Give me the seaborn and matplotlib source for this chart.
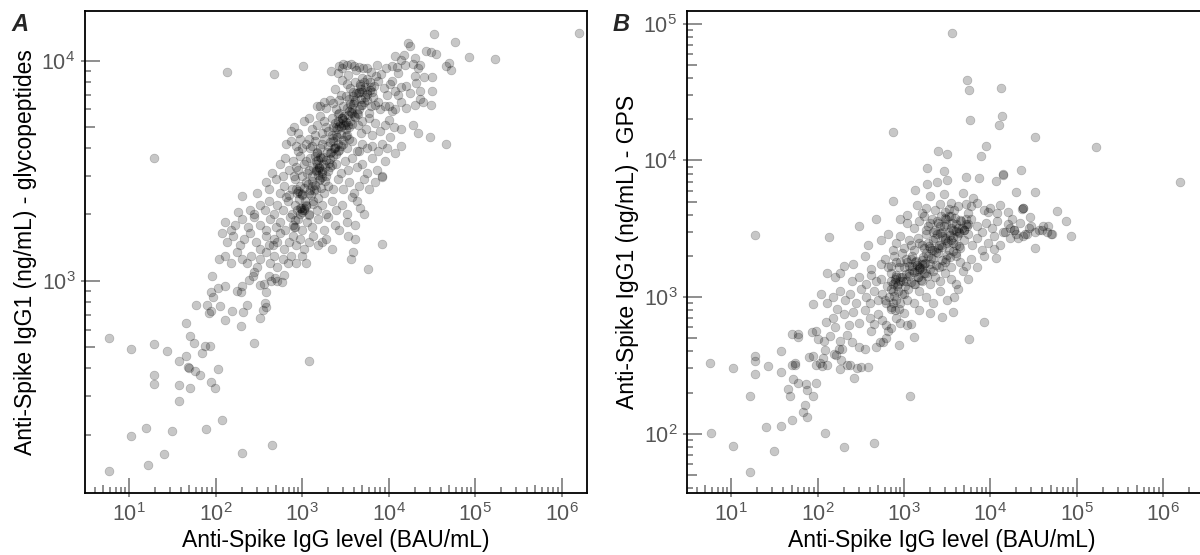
import matplotlib
matplotlib.use('Agg')
import matplotlib.pyplot as plt
import seaborn as sns
import pandas as pd
from matplotlib.ticker import LogLocator, NullFormatter, LogFormatterMathtext

# Panel A: anti-spike IgG level (BAU/mL) vs anti-spike IgG1 from glycopeptides (ng/mL)
igg_a = [
    1.6e6, 3.4e4, 5.9e4, 1.7e4, 1.75e4, 2.7e4, 3.1e4, 3.5e4, 1.5e4, 1.4e4, 1.72e5, 8.6e4, 2.0e4, 1.2e4,
    137, 480, 1020, 2150, 2700, 3000, 3300, 3700, 4000, 4500, 5100, 5600, 7300, 9300, 11000, 12500, 15500,
    19000, 22000, 23000, 46000, 50000, 53000, 2600, 3400, 6200, 8200, 13000, 20000, 26000, 32000, 2900, 4200,
    2900, 3300, 4100, 4700, 5300, 6100, 6800, 7600, 8800, 10500, 12000, 14000, 16000, 21000, 23000, 32000,
    2800, 3900, 4400, 5700, 6500, 9500, 13000, 17500, 2400, 5000, 7100, 3600, 4900, 6300, 11000,
    1800, 2100, 1500, 1600, 1900, 2300, 2700, 3000, 3500, 4000, 4500, 5000, 5600, 6200, 7000, 8000, 9000,
    10000, 12000, 14000, 16000, 20000, 23000, 31000, 3500, 4300, 6000, 11000, 25000, 5300, 2500, 3200, 3800,
    4800, 6600, 7600,
    740, 800, 900, 1050, 1200, 1300, 1500, 1600, 1800, 2000, 2200, 2400, 2600, 2800, 3000, 3200, 3600, 4000,
    4400, 5000, 5500, 6000, 7000, 8000, 9000, 10000, 11500, 14000, 19000, 22000, 30000, 2500, 2200, 1700,
    3300, 4800, 6500, 10500, 2700, 3800, 2600, 2900, 3100, 2500, 2750, 2300, 3400, 1400, 1900,
    650, 750, 850, 950, 1100, 1250, 1400, 1600, 1800, 2000, 2300, 2600, 3000, 3300, 3800, 4300, 5000, 5600,
    6500, 7500, 8500, 9500, 14000, 46000, 12000, 2100, 1500, 900, 1200, 1700, 2800, 3500, 4600, 1000, 2400, 1300,
    450, 560, 640, 700, 780, 850, 950, 1050, 1150, 1250, 1350, 1450, 1550, 1650, 1750, 1900, 2100, 2300, 2500,
    2800, 3100, 3400, 3800, 4300, 5000, 5600, 6400, 7300, 8500, 9000, 1500, 600, 1000, 1300, 1200, 1480, 1520,
    1560, 1600, 1450, 1400, 1700, 800, 900, 1100,
    300, 380, 420, 500, 560, 620, 700, 760, 820, 880, 950, 1000, 1100, 1200, 1300, 1450, 1600, 1800, 2000,
    2300, 2600, 3000, 3500, 4000, 4600, 5200, 6000, 7000, 8300, 200, 850, 900, 950, 1050, 650,
    180, 250, 280, 330, 370, 420, 480, 520, 600, 680, 760, 820, 880, 950, 1000, 1050, 1100, 1200, 1350, 1500,
    1700, 1900, 2200, 2500, 2900, 3300, 4300, 4700, 5200, 3800, 1000, 1050, 980,
    130, 150, 170, 200, 240, 280, 330, 380, 430, 500, 560, 640, 720, 780, 840, 900, 1000, 1150, 1300, 1550,
    1800, 2000, 2400, 2700, 3300, 4100, 800,
    120, 135, 160, 190, 215, 250, 290, 330, 380, 420, 480, 550, 620, 700, 780, 860, 950, 1050, 1200, 1350,
    1550, 1700, 1900, 2200, 3400, 4100, 8500, 460, 520,
    110, 130, 150, 175, 200, 230, 260, 300, 330, 380, 430, 480, 520, 600, 680, 750, 850, 1000, 1100, 3900,
    3700, 5800,
    90, 128, 89, 94, 108, 179, 195, 243, 270, 330, 365, 490, 620, 200, 280, 410, 440, 520, 580, 380,
    60, 79, 89, 85, 112, 129, 156, 198, 210, 233, 324, 350, 371, 380,
    19.2, 5.8, 10.5, 19.4, 27.4, 46, 51, 56, 75, 86, 69, 38, 45, 48, 50, 58, 66, 108, 19.3, 19.3,
    38, 51, 89, 98, 38, 120, 77, 31.7, 15.8, 10.5, 25.5, 200, 452, 16.8, 5.9, 1210, 277,
    # dense ridge
    1100, 1270, 1380, 1560, 1690, 1830, 2040, 2180, 2420, 2570, 2830, 2980, 3240, 3390, 3650, 3880, 4150,
    4560, 4770, 5260, 5580,
    920, 990, 1180, 1290, 1470, 1580, 1760, 1930, 2120, 2280, 2530, 2690, 2920, 3060, 3350, 3580, 3920,
    4180, 4630,
    1210, 1330, 1520, 1640, 1820, 1990, 2230, 2460, 2680, 2940, 3210, 3460, 3830, 4090, 4420, 4850, 5150,
    5650, 6050,
    820, 960, 1090, 1240, 1420, 1530, 1720, 1880, 2090, 2370, 2590,
]
glyco_a = [
    13400, 13200, 12100, 12000, 11700, 11000, 10900, 10700, 10600, 10100, 10200, 10400, 10300, 10500,
    8880, 8730, 9460, 9000, 9500, 9700, 9600, 9650, 9500, 9400, 9300, 9300, 9600, 9300, 9500, 9400, 9600,
    9700, 9300, 9600, 9500, 9800, 9100, 8800, 8600, 8900, 8700, 8800, 8500, 8400, 8400, 9300, 9100,
    8200, 7800, 8000, 7800, 7600, 8000, 7700, 8100, 7500, 7800, 7300, 7600, 7700, 7900, 7300, 7300,
    7000, 7200, 7100, 7300, 7200, 7000, 7000, 7100, 7400, 8300, 8500, 7500, 7200, 7600, 8100,
    6500, 6600, 6200, 6250, 6100, 6400, 6600, 6200, 6700, 6500, 6000, 6300, 6600, 6200, 6300, 6000, 6200,
    6200, 6000, 6500, 6100, 6300, 6700, 6300, 5900, 5800, 5800, 5900, 6500, 6800, 6000, 6900, 6100,
    6700, 6800, 6500,
    4800, 5000, 4700, 5300, 5500, 4900, 5100, 5600, 5300, 4800, 5500, 5200, 5700, 5000, 5400, 4900, 5300, 5600,
    5100, 5300, 4900, 5500, 5200, 4800, 5100, 5400, 5000, 4900, 5100, 4700, 4500, 4600, 4600, 4700,
    4600, 4700, 4600, 4500, 5800, 5800, 5300, 5500, 5100, 5000, 5200, 5000, 5100, 4600, 5000,
    4200, 4300, 4100, 4400, 4200, 4000, 4300, 4000, 4400, 4100, 4300, 3900, 4200, 4000, 4300, 3900, 4200, 4000,
    4100, 3900, 4200, 4000, 4100, 4200, 3800, 3800, 3850, 3900, 4400, 4200, 4100, 4400, 3900, 4000, 4000, 4100,
    3100, 3400, 3600, 3200, 3500, 3300, 3700, 3400, 3100, 3600, 3300, 3500, 3200, 3600, 3400, 3000, 3300, 3700, 3400,
    3100, 3500, 3200, 3600, 3300, 3400, 3100, 3600, 3200, 3000, 3500, 3800, 3000, 3000, 3000, 3200, 3400, 3550,
    3300, 3650, 3200, 3700, 3100, 3000, 3200, 3500,
    2500, 2800, 2600, 2900, 2500, 2700, 2450, 2600, 2900, 2500, 2700, 2450, 2800, 2500, 2700, 2600, 2900, 2500, 2700,
    2600, 2900, 2600, 2800, 2500, 2700, 2900, 2600, 2800, 2950, 2430, 2600, 2550, 2500, 2650, 2400,
    2050, 2100, 2000, 2200, 2100, 2300, 2000, 2200, 2100, 2300, 2000, 2200, 2100, 2000, 2100, 2150, 2200, 2000, 2300, 2100,
    2200, 2000, 2300, 2100, 2200, 2000, 2300, 2150, 2000, 2400, 2050, 2100, 2150,
    1850, 1700, 1800, 1900, 1750, 1950, 1800, 1700, 1900, 1750, 1850, 1700, 1950, 1800, 1750, 1900, 1700, 1850, 1750, 1900,
    1700, 1950, 1800, 1700, 1850, 1800, 1750,
    1650, 1500, 1600, 1450, 1550, 1650, 1500, 1400, 1600, 1450, 1550, 1650, 1400, 1500, 1600, 1450, 1550, 1400, 1500, 1600,
    1450, 1500, 1550, 1400, 1600, 1550, 1470, 1450, 1500,
    1250, 1300, 1200, 1350, 1250, 1200, 1300, 1150, 1250, 1350, 1200, 1300, 1150, 1250, 1200, 1300, 1200, 1300, 1200, 1350,
    1250, 1130,
    1050, 942, 885, 848, 930, 897, 885, 1010, 1050, 960, 970, 1030, 1060, 950, 1100, 1050, 1000, 1000, 990, 890,
    775, 773, 728, 714, 764, 664, 732, 621, 720, 773, 677, 739, 791, 756,
    3600, 548, 489, 517, 480, 645, 560, 520, 505, 505, 470, 434, 456, 407, 400, 390, 372, 398, 373, 341,
    337, 327, 345, 324, 283, 232, 213, 208, 215, 198, 163, 165, 180, 145, 136, 434, 521,
    # dense ridge
    2180, 2460, 2570, 2860, 2950, 3270, 3440, 3850, 4050, 4480, 4620, 5080, 5250, 5690, 5830, 6380, 6620,
    7180, 7420, 7960, 8250,
    2340, 2470, 2740, 2850, 3150, 3240, 3660, 3860, 4260, 4430, 4870, 5040, 5480, 5620, 6080, 6320, 6890,
    7110, 7680,
    1980, 2230, 2370, 2640, 2840, 3150, 3340, 3760, 3920, 4360, 4540, 4970, 5130, 5570, 5720, 6260, 6510,
    7060, 7330,
    1880, 2130, 2310, 2590, 2720, 3020, 3150, 3520, 3580, 4020, 4180,
]

# Panel B: anti-spike IgG level (BAU/mL) vs anti-spike IgG1 from GPS (ng/mL)
igg_b = [
    3650, 5430, 5700, 13400, 13800, 12800, 5800, 750, 33000, 168000, 9000, 2480, 3130, 7800, 1.57e6,
    23000, 14000, 14200, 11700, 7500, 5200, 2900, 1870, 3130, 2400, 1870, 1330, 740, 19,
    20000, 33000, 59000, 76000, 86000, 51000, 33000, 23500, 24000, 29000, 11700, 11000, 8500, 5700, 1190,
    41000, 46000, 37000, 27000, 17000, 15000, 19000, 21000,
    1100, 1400, 1800, 2300, 2600, 3000, 3500, 3800, 4200, 5200, 6000, 7000, 8500, 10000, 13000, 16000,
    24000, 12000, 6400, 4800, 2000, 1600, 2900, 3300, 5500, 9500,
    300, 475, 900, 1100, 1300, 1500, 1700, 1900, 2100, 2300, 2500, 2700, 2900, 3100, 3300, 3600, 3900, 4200,
    4600, 5000, 5500, 6000, 7000, 8000, 9000, 10500, 12000, 14000, 16000, 19000, 22000, 28000, 33000, 40000,
    47000, 52000, 25000, 30000, 18000, 2600, 3300, 2000, 2800, 3500, 4000, 2400, 3000, 4400, 3700, 1800,
    2200, 5200,
    136, 380, 550, 650, 750, 820, 900, 1000, 1150, 1300, 1450, 1600, 1800, 2000, 2200, 2400, 2700, 3000,
    3300, 3700, 4100, 4500, 5000, 5500, 6200, 7000, 8000, 9500, 11000, 13000, 17000, 20000, 24000, 2500,
    2800, 3200, 1700, 1900, 2100, 2300, 3500, 4000, 1500, 1200,
    200, 260, 350, 420, 600, 700, 760, 820, 880, 950, 1050, 1150, 1250, 1350, 1500, 1650, 1800, 2000, 2200,
    2500, 2800, 3100, 3500, 4000, 4500, 5200, 6000, 7000, 8500, 1400, 1600, 1700, 650, 550, 900, 1000,
    1100, 1200,
    130, 160, 180, 250, 300, 360, 420, 480, 550, 630, 700, 780, 850, 950, 1050, 1150, 1300, 1450, 1600,
    1800, 2000, 2300, 2600, 3000, 3500, 4000, 4800, 5500, 750, 800, 900, 700, 820,
    110, 130, 150, 180, 210, 240, 280, 320, 360, 400, 450, 500, 560, 620, 680, 750, 820, 900, 1000, 1100,
    1300, 1500, 1800, 2200, 2600, 3200, 3800, 4200, 700, 780, 880, 750, 600,
    88, 125, 150, 170, 200, 230, 260, 300, 350, 400, 450, 500, 560, 620, 700, 800, 900, 1000, 1200, 1500,
    2000, 2800, 3700, 1100, 650,
    50, 59, 59, 86, 95, 101, 120, 140, 160, 180, 220, 300, 350, 420, 475, 530, 570, 620, 885, 1300,
    122, 176, 190, 38, 250, 700,
    5.7, 5.8, 10.5, 10.4, 16.6, 16.3, 19, 19, 19, 27, 25, 31.6, 38, 38, 45, 48, 50, 55, 52, 55,
    50, 59, 73, 75, 71, 68, 75, 79, 89, 89, 95, 97, 106, 112, 117, 130, 123, 155, 163, 180,
    187, 200, 265, 290, 220, 237, 320, 380, 450,
    # dense core
    700, 780, 830, 910, 980, 1060, 1140, 1230, 1320, 1410, 1520, 1640, 1760, 1890, 2050, 2210, 2380, 2560,
    2760, 2980, 3210, 3460, 3720, 4010, 4320, 4650, 5010, 5400,
    760, 850, 940, 1030, 1120, 1210, 1330, 1460, 1580, 1710, 1850, 2010, 2170, 2340, 2530, 2740, 2960,
    3190, 3440, 3710, 4000, 4310,
    1250, 1380, 1490, 1620, 1950, 2650, 3050, 3550, 4450, 5200,
]
gps_b = [
    85000, 38500, 33000, 33700, 21300, 18300, 19900, 16200, 14900, 12600, 12700, 11800, 11200, 10700, 6950,
    8500, 8000, 7800, 7060, 7400, 7540, 8300, 8870, 7240, 6900, 6680, 6060, 5010, 2830,
    5910, 5910, 4290, 3580, 2800, 2870, 2280, 4390, 4500, 3870, 1920, 2240, 659, 489, 188,
    3300, 3000, 3100, 2900, 3200, 3000, 3100, 2700,
    4000, 4700, 4500, 4300, 4800, 4200, 4900, 4300, 4600, 4800, 4600, 4900, 4300, 4500, 4700, 4200,
    4500, 4100, 5300, 5800, 5500, 4100, 5700, 4400, 4100, 4200,
    3330, 3740, 3700, 3500, 3200, 3600, 3900, 3300, 3700, 3100, 3500, 3900, 3300, 3700, 3000, 3500, 3800, 3200,
    3600, 3100, 3400, 3700, 3300, 3000, 3500, 3200, 3600, 3000, 3400, 3100, 3500, 3200, 3000, 3100,
    3300, 2900, 2900, 3300, 3700, 3300, 3900, 3500, 3000, 3200, 3400, 3600, 3800, 3000, 3100, 3100,
    3000, 3700,
    2760, 2400, 2600, 2900, 2200, 2500, 2800, 2300, 2600, 2200, 2700, 2400, 2900, 2300, 2600, 2900, 2400, 2700,
    2200, 2500, 2800, 2300, 2600, 2900, 2400, 2700, 2200, 2500, 2800, 2400, 2700, 2900, 2800, 2300,
    2800, 2500, 2300, 2500, 2200, 2700, 2600, 2400, 2500, 2400,
    1700, 1750, 2000, 1600, 1900, 1700, 2000, 1800, 1650, 2100, 1900, 1700, 2000, 1800, 1650, 1950, 2100, 1750, 1900,
    2100, 1700, 1900, 1650, 2000, 1800, 1700, 1900, 1650, 2000, 1550, 1600, 1750, 1650, 1750, 1800, 1650,
    1800, 1900,
    1500, 1400, 1500, 1300, 1400, 1250, 1450, 1300, 1350, 1200, 1500, 1350, 1250, 1400, 1300, 1500, 1250, 1400, 1300,
    1500, 1250, 1400, 1300, 1500, 1350, 1250, 1550, 1350, 1250, 1400, 1300, 1300, 1450,
    1050, 900, 1000, 1100, 950, 1050, 900, 1150, 1000, 900, 1100, 950, 1050, 900, 1000, 1100, 950, 900, 1050, 950,
    900, 1100, 1000, 900, 1100, 950, 1000, 1150, 850, 800, 820, 900, 950,
    888, 661, 700, 820, 750, 620, 780, 650, 800, 700, 640, 750, 680, 620, 820, 700, 650, 760, 640, 800,
    760, 720, 780, 620, 560,
    537, 540, 510, 555, 561, 497, 480, 520, 600, 480, 530, 430, 417, 560, 430, 465, 470, 500, 442, 510,
    411, 417, 415, 404, 470, 590,
    328, 101, 305, 81, 52, 188, 369, 342, 272, 313, 111, 75, 114, 284, 211, 189, 320, 318, 250, 330,
    125, 236, 230, 208, 161, 144, 133, 365, 188, 369, 318, 236, 328, 313, 355, 316, 101, 380, 378, 295,
    344, 80, 254, 305, 320, 320, 310, 310, 86,
    # dense core
    1150, 1280, 1210, 1390, 1320, 1480, 1420, 1590, 1530, 1710, 1640, 1860, 1780, 2010, 1940, 2200, 2120, 2410,
    2330, 2620, 2560, 2830, 2750, 3030, 2940, 3190, 3080, 3320,
    1020, 1110, 1060, 1200, 1150, 1290, 1240, 1390, 1330, 1490, 1430, 1600, 1540, 1730, 1660, 1870, 1800,
    2020, 1950, 2180, 2110, 2350,
    1700, 1850, 1600, 1750, 2350, 2950, 3400, 3900, 3650, 3450,
]

assert len(igg_a) == len(glyco_a), (len(igg_a), len(glyco_a))
assert len(igg_b) == len(gps_b), (len(igg_b), len(gps_b))

df_a = pd.DataFrame({'igg': igg_a, 'igg1': glyco_a})
df_b = pd.DataFrame({'igg': igg_b, 'igg1': gps_b})

sns.set_style('ticks')
plt.rcParams['font.family'] = ['Liberation Sans', 'DejaVu Sans']
plt.rcParams['mathtext.fontset'] = 'custom'
plt.rcParams['mathtext.rm'] = 'Liberation Sans'
plt.rcParams['mathtext.it'] = 'Liberation Sans:italic'
plt.rcParams['mathtext.bf'] = 'Liberation Sans:bold'

TICK_GREY = '#707070'
LABEL_GREY = '#555555'
W, H = 1200, 555


def style_axes(ax, xlim, ylim):
    ax.set_xscale('log')
    ax.set_yscale('log')
    ax.set_xlim(*xlim)
    ax.set_ylim(*ylim)
    for axis in (ax.xaxis, ax.yaxis):
        axis.set_major_locator(LogLocator(base=10, numticks=20))
        axis.set_major_formatter(LogFormatterMathtext())
        axis.set_minor_locator(LogLocator(base=10, subs=(2, 3, 4, 6, 7, 8, 9), numticks=20))
        axis.set_minor_formatter(NullFormatter())
    ax.tick_params(which='major', direction='in', length=11, width=1.1, color=TICK_GREY,
                   labelcolor=LABEL_GREY, labelsize=15.5, pad=7,
                   bottom=True, left=True, top=False, right=False)
    ax.tick_params(which='minor', direction='in', length=4, width=1.1, color=TICK_GREY,
                   bottom=True, left=True, top=False, right=False)
    for sp in ax.spines.values():
        sp.set_visible(True)
        sp.set_color('black')
        sp.set_linewidth(1.3)

    # longer ticks at 5 x 10^n and the short outside stubs at each decade
    sx = ax.secondary_xaxis('bottom')
    sy = ax.secondary_yaxis('left')
    for sec, axis in ((sx, sx.xaxis), (sy, sy.yaxis)):
        axis.set_major_locator(LogLocator(base=10, subs=(5,), numticks=20))
        axis.set_minor_locator(LogLocator(base=10, subs=(1,), numticks=20))
        axis.set_major_formatter(NullFormatter())
        axis.set_minor_formatter(NullFormatter())
        for sp in sec.spines.values():
            sp.set_visible(False)
    sx.tick_params(which='both', labelbottom=False)
    sy.tick_params(which='both', labelleft=False)
    sx.tick_params(which='major', direction='in', length=6, width=1.1, color=TICK_GREY, bottom=True)
    sx.tick_params(which='minor', direction='out', length=3, width=1.1, color=TICK_GREY, bottom=True)
    sy.tick_params(which='major', direction='in', length=7.5, width=1.1, color=TICK_GREY, left=True)
    sy.tick_params(which='minor', direction='out', length=3, width=1.1, color=TICK_GREY, left=True)


fig = plt.figure(figsize=(12, 5.55), dpi=100)
ax_a = fig.add_axes([85 / W, 62 / H, 502 / W, 482 / H])
ax_b = fig.add_axes([687 / W, 62 / H, 518 / W, 482 / H])

point_kw = dict(color='black', alpha=0.22, s=40, edgecolor='black', linewidth=0.5, legend=False)
sns.scatterplot(data=df_a, x='igg', y='igg1', ax=ax_a, **point_kw)
sns.scatterplot(data=df_b, x='igg', y='igg1', ax=ax_b, **point_kw)

style_axes(ax_a, (3.1, 1.97e6), (108.6, 16800))
style_axes(ax_b, (3.07, 3.08e6), (36.8, 1.24e5))

xlabel = 'Anti-Spike IgG level (BAU/mL)'
ax_a.set_xlabel(xlabel, fontsize=16.5, color='black')
ax_b.set_xlabel(xlabel, fontsize=16.5, color='black')
ax_a.set_ylabel('Anti-Spike IgG1 (ng/mL) - glycopeptides', fontsize=16.5, color='black')
ax_b.set_ylabel('Anti-Spike IgG1 (ng/mL) - GPS', fontsize=16.5, color='black')
ax_a.xaxis.set_label_coords(0.5, -0.075)
ax_b.xaxis.set_label_coords((942 - 687) / 518, -0.075)
ax_a.yaxis.set_label_coords(-0.095, 0.5)
ax_b.yaxis.set_label_coords(-0.093, 0.5)

fig.text(11 / W, 1 - 31 / H, 'A', fontsize=17, fontweight='bold', fontstyle='italic', va='baseline')
fig.text(613 / W, 1 - 31 / H, 'B', fontsize=17, fontweight='bold', fontstyle='italic', va='baseline')

fig.savefig('out.png', dpi=100)
